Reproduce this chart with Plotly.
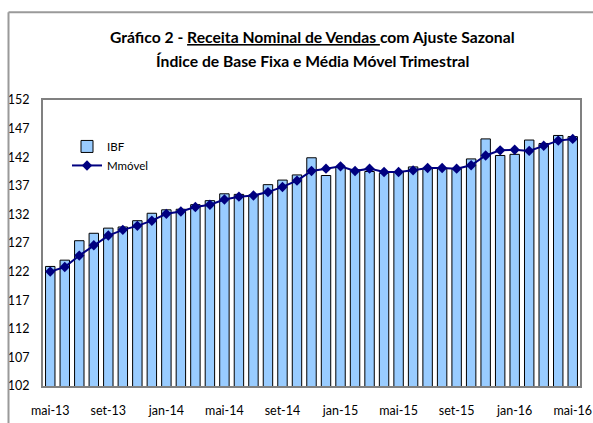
import plotly.graph_objects as go

months = ["mai-13", "jun-13", "jul-13", "ago-13", "set-13", "out-13", "nov-13", "dez-13",
          "jan-14", "fev-14", "mar-14", "abr-14", "mai-14", "jun-14", "jul-14", "ago-14",
          "set-14", "out-14", "nov-14", "dez-14", "jan-15", "fev-15", "mar-15", "abr-15",
          "mai-15", "jun-15", "jul-15", "ago-15", "set-15", "out-15", "nov-15", "dez-15",
          "jan-16", "fev-16", "mar-16", "abr-16", "mai-16"]

ibf = [122.9, 124.0, 127.4, 128.7, 129.6, 129.8, 130.9, 132.2,
       132.8, 132.9, 133.7, 134.4, 135.6, 135.5, 135.4, 137.2,
       138.0, 138.9, 141.9, 138.8, 140.3, 139.8, 139.5, 139.2,
       139.4, 140.3, 140.0, 140.0, 140.0, 141.7, 145.2, 142.3,
       142.5, 145.0, 144.4, 145.8, 145.6]

mmovel = [122.0, 122.8, 124.8, 126.6, 128.3, 129.3, 130.0, 130.9,
          132.1, 132.5, 133.3, 133.7, 134.6, 135.1, 135.3, 135.9,
          136.8, 137.9, 139.6, 140.0, 140.4, 139.6, 140.0, 139.4,
          139.4, 139.7, 140.1, 140.1, 140.0, 140.6, 142.3, 143.2,
          143.3, 143.1, 144.0, 144.9, 145.2]

tick_idx = list(range(0, len(months), 4))
tick_txt = [months[i] for i in tick_idx]
x = list(range(len(months)))

font = "Lato, 'Open Sans', sans-serif"

W, H = 593, 423
L, R, T, B = 43, 13, 100, 36.5
PW, PH = W - L - R, H - T - B


def px_x(v):
    return (v - L) / PW


def px_y(v):
    return (H - B - v) / PH


fig = go.Figure()
fig.add_trace(go.Bar(
    x=x, y=ibf, name="IBF",
    marker=dict(color="#99CCFF", line=dict(color="#000000", width=1)),
))
fig.add_trace(go.Scatter(
    x=x, y=mmovel, name="Mmóvel", mode="lines+markers",
    line=dict(color="#000080", width=2),
    marker=dict(symbol="diamond", size=8, color="#000080"),
))

fig.update_layout(
    width=W, height=H,
    margin=dict(l=L, r=R, t=T, b=B, autoexpand=False),
    paper_bgcolor="white", plot_bgcolor="white",
    font=dict(family=font, size=12.5, color="#000000"),
    bargap=0.35,
    showlegend=True,
    legend=dict(x=px_x(67), y=px_y(132), xanchor="left", yanchor="top",
                bgcolor="rgba(0,0,0,0)", font=dict(size=11.5),
                itemwidth=30, tracegroupgap=2),
    annotations=[
        dict(text="<b>Gráfico 2 - <u>Receita Nominal de Vendas </u>com Ajuste Sazonal</b>",
             xref="paper", yref="paper", x=px_x(312), y=px_y(37), xanchor="center",
             yanchor="middle", showarrow=False, font=dict(size=15.7, family=font)),
        dict(text="<b>Índice de Base Fixa e Média Móvel Trimestral</b>",
             xref="paper", yref="paper", x=px_x(312), y=px_y(61), xanchor="center",
             yanchor="middle", showarrow=False, font=dict(size=15.7, family=font)),
    ],
    shapes=[
        dict(type="line", xref="paper", yref="paper",
             x0=px_x(8.5), x1=px_x(W + 10), y0=px_y(12), y1=px_y(12),
             line=dict(color="#9a9a9a", width=2)),
        dict(type="line", xref="paper", yref="paper",
             x0=px_x(8.5), x1=px_x(8.5), y0=px_y(12), y1=px_y(H + 10),
             line=dict(color="#9a9a9a", width=2)),
    ],
)

fig.update_xaxes(
    range=[-0.5, len(months) - 0.5], automargin=False,
    tickmode="array", tickvals=tick_idx, ticktext=tick_txt,
    ticklabeloverflow="allow",
    showline=True, linecolor="#808080", linewidth=2, mirror=True,
    ticks="outside", ticklen=12, tickcolor="rgba(0,0,0,0)",
    showgrid=False, zeroline=False,
)
fig.update_yaxes(
    range=[102, 152], dtick=5, tick0=102, automargin=False,
    showline=True, linecolor="#808080", linewidth=2, mirror=True,
    ticks="outside", ticklen=9, tickcolor="rgba(0,0,0,0)",
    showgrid=False, zeroline=False,
)

# drop the default 8px page margin so the figure fills the window
fig.write_html("out.html",
               config={"displayModeBar": False},
               post_script="document.body.style.margin='0';document.body.style.overflow='hidden';")
